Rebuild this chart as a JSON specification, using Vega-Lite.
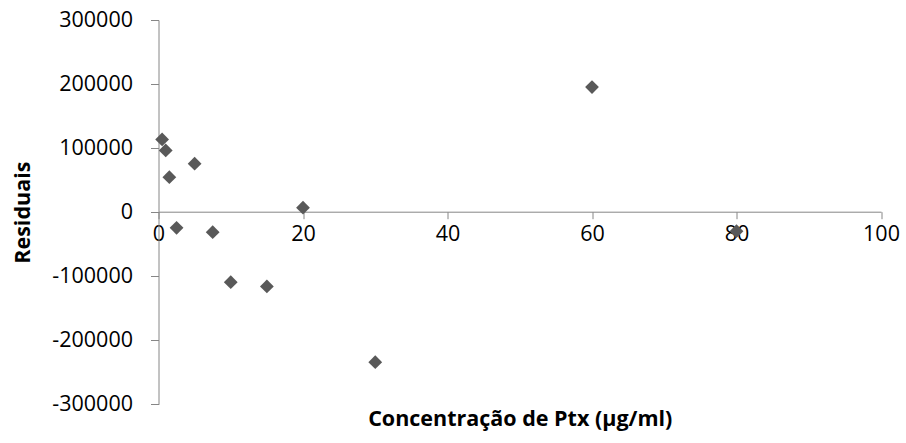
{
  "$schema": "https://vega.github.io/schema/vega-lite/v6.json",
  "width": 722.5,
  "height": 384.3,
  "autosize": "none",
  "padding": {"left": 158.5, "top": 20, "right": 25, "bottom": 38.7},
  "background": "white",
  "config": {
    "view": {"stroke": null},
    "font": "Open Sans",
    "axis": {
      "grid": false,
      "domainColor": "#868686",
      "tickColor": "#868686",
      "labelColor": "#000000",
      "titleColor": "#000000",
      "labelFont": "Open Sans",
      "titleFont": "Open Sans",
      "labelFontSize": 21.5,
      "titleFontSize": 21.5,
      "titleFontWeight": "bold"
    }
  },
  "data": {
    "values": [
      {"conc": 0.5, "res": 113500},
      {"conc": 1, "res": 96300},
      {"conc": 1.5, "res": 54600},
      {"conc": 2.5, "res": -24400},
      {"conc": 5, "res": 75600},
      {"conc": 7.5, "res": -31200},
      {"conc": 10, "res": -109300},
      {"conc": 15, "res": -116000},
      {"conc": 20, "res": 6900},
      {"conc": 30, "res": -234200},
      {"conc": 60, "res": 195200},
      {"conc": 80, "res": -29700}
    ]
  },
  "mark": {"type": "point", "shape": "diamond", "filled": true, "size": 190, "color": "#595959", "opacity": 1},
  "encoding": {
    "x": {
      "field": "conc",
      "type": "quantitative",
      "scale": {"domain": [0, 100], "nice": false, "zero": false},
      "axis": {
        "values": [0, 20, 40, 60, 80, 100],
        "offset": -192.6,
        "zindex": 0,
        "tickSize": 7,
        "labelPadding": 5,
        "labelFlush": false,
        "title": "Concentração de Ptx (µg/ml)",
        "titlePadding": 163
      }
    },
    "y": {
      "field": "res",
      "type": "quantitative",
      "scale": {"domain": [-300000, 300000], "nice": false},
      "axis": {
        "values": [-300000, -200000, -100000, 0, 100000, 200000, 300000],
        "zindex": 0,
        "tickSize": 8,
        "labelPadding": 18,
        "labelFlush": false,
        "labelExpr": "toString(datum.value)",
        "title": "Residuais",
        "titlePadding": 17
      }
    }
  }
}
